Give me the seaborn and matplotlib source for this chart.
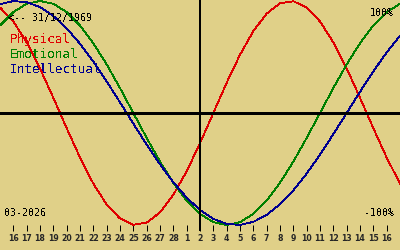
import matplotlib
matplotlib.use("Agg")
import matplotlib.pyplot as plt
import seaborn as sns
import pandas as pd

# Day labels (Feb 15 .. Mar 17, 2026); edges are unlabeled
days = [15, 16, 17, 18, 19, 20, 21, 22, 23, 24, 25, 26, 27, 28,
        1, 2, 3, 4, 5, 6, 7, 8, 9, 10, 11, 12, 13, 14, 15, 16, 17]
physical = [0.942, 0.817, 0.631, 0.398, 0.136, -0.136, -0.398, -0.631, -0.817, -0.942,
            -0.998, -0.979, -0.888, -0.731, -0.520, -0.270, 0.000, 0.270, 0.520, 0.731,
            0.888, 0.979, 0.998, 0.942, 0.817, 0.631, 0.398, 0.136, -0.136, -0.398, -0.631]
emotional = [0.782, 0.901, 0.975, 1.000, 0.975, 0.901, 0.782, 0.623, 0.434, 0.223,
             0.000, -0.223, -0.434, -0.623, -0.782, -0.901, -0.975, -1.000, -0.975, -0.901,
             -0.782, -0.623, -0.434, -0.223, 0.000, 0.223, 0.434, 0.623, 0.782, 0.901, 0.975]
intellectual = [0.972, 0.999, 0.990, 0.945, 0.866, 0.756, 0.618, 0.458, 0.282, 0.095,
                -0.095, -0.282, -0.458, -0.618, -0.756, -0.866, -0.945, -0.990, -0.999, -0.972,
                -0.910, -0.815, -0.690, -0.541, -0.372, -0.189, 0.000, 0.189, 0.372, 0.541, 0.690]
series_names = ["Physical", "Emotional", "Intellectual"]
colors = ["#e00000", "#008000", "#000090"]
today_pos = 15  # 2 March
birth_label = "<-- 31/12/1969"
month_label = "03-2026"

BG = "#e0d088"
sns.set_theme(style="white")
plt.rcParams["font.family"] = ["DejaVu Sans Mono", "DejaVu Sans"]
plt.rcParams["text.antialiased"] = False

pos = list(range(len(days)))
df = pd.DataFrame({
    "pos": pos * 3,
    "value": physical + emotional + intellectual,
    "series": [s for s in series_names for _ in pos],
})

fig = plt.figure(figsize=(4, 2.5), dpi=100, facecolor=BG)
ax = fig.add_axes([0, 19 / 250, 1, 231 / 250], facecolor=BG)

sns.lineplot(data=df, x="pos", y="value", hue="series", hue_order=series_names,
             palette=colors, legend=False, ax=ax, linewidth=0.6, antialiased=False)

ax.axhline(0, color="black", linewidth=1.0, antialiased=False)
ax.axvline(today_pos, color="black", linewidth=1.44, antialiased=False)

ax.set_xlim(0, len(days) - 1)
ax.set_ylim(-1 - 6 / 112, 1 + 1 / 112)
for s in ax.spines.values():
    s.set_visible(False)
ax.set_xlabel("")
ax.set_ylabel("")
ax.set_yticks([])
ax.set_xticks(pos[1:-1], labels=[str(d) for d in days[1:-1]])
ax.tick_params(axis="x", direction="in", length=4.3, width=0.72, color="black",
               pad=2.0, labelsize=5.6, bottom=True)
for lab in ax.get_xticklabels():
    lab.set_fontweight("bold")
    lab.set_family(["DejaVu Sans"])
    lab.set_antialiased(True)
for t in ax.xaxis.get_major_ticks():
    t.tick1line.set_antialiased(False)

def fx(x):
    return x / 400
def fy(y):
    return 1 - y / 250

fig.text(fx(8), fy(20.7), birth_label, fontsize=7.2, color="black", va="baseline", ha="left")
for name, c, yb in zip(series_names, colors, [42.7, 57.5, 72.7]):
    fig.text(fx(10), fy(yb), name, fontsize=9.2, color=c, va="baseline", ha="left")
fig.text(fx(394), fy(16), "100%", fontsize=7.2, color="black", va="baseline", ha="right")
fig.text(fx(394), fy(216), "-100%", fontsize=7.2, color="black", va="baseline", ha="right")
fig.text(fx(4), fy(216), month_label, fontsize=7.2, color="black", va="baseline", ha="left")

fig.savefig("out.png", dpi=100, facecolor=BG)
